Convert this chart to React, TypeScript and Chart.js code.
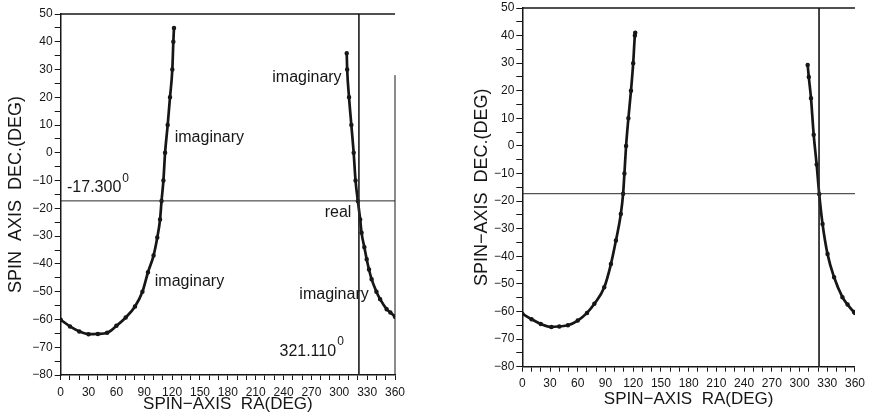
import React, { useEffect, useRef } from 'react';
import { Chart, registerables } from 'chart.js';

Chart.register(...registerables);

// ---------- data ----------
const RA_MIN = 0;
const RA_MAX = 360;
const DEC_MIN = -80;
const DEC_MAX = 50;
const RA_LABEL_STEP = 30;
const DEC_LABEL_STEP = 10;

const REF_DEC = -17.3;
const REF_RA = 321.11;

// Left panel, western branch
const L_WEST_RA = [0, 10, 20, 30, 40, 50, 60, 70, 80, 88, 94, 100, 104, 107, 108.6, 110.6, 112.4, 115.2, 117.7, 120.2, 121.3, 122];
const L_WEST_DEC = [-60.1, -62.5, -64.3, -65.3, -65.2, -64.8, -62.3, -59.3, -55.3, -50, -43, -37, -30.5, -24, -17.3, -10, 0, 10, 20, 30, 40, 45];
// Left panel, eastern branch
const L_EAST_RA = [308, 308.5, 310.5, 313, 315.5, 317.5, 320, 322.5, 324, 327, 329.5, 332, 334.8, 340, 344, 351, 355, 360];
const L_EAST_DEC = [35.9, 30, 20, 10, 0, -10, -17.3, -24, -28.8, -34, -38.3, -42, -45.5, -50, -52.7, -56.3, -57.5, -59];

// Right panel, western branch
const R_WEST_RA = [0, 10, 20, 31.5, 40, 49.4, 60, 70, 78, 88.7, 95.9, 101.3, 106.6, 109.1, 110.5, 112.3, 114.8, 117.6, 120, 121.8, 122.2];
const R_WEST_DEC = [-60.8, -62.8, -64.5, -65.6, -65.4, -65, -63.3, -60.5, -57.2, -51.2, -42.8, -34.3, -24.7, -17.3, -10, 0, 10, 20, 30, 40, 41];
// Right panel, eastern branch
const R_EAST_RA = [308.8, 310, 312.4, 315.3, 318.5, 321.3, 324.9, 330.3, 337.4, 346.4, 352, 358.9, 360];
const R_EAST_DEC = [29.3, 25, 17.3, 4.1, -6.7, -17.5, -28.3, -39.2, -47.6, -54.8, -57.5, -60.2, -60.5];

const LEFT_LABELS = ['imaginary', 'imaginary', 'real', 'imaginary', 'imaginary', '-17.300', '321.110'];
const LEFT_LABEL_RA = [122.8, 302.5, 313, 101.3, 257, 6.8, 235.6];
const LEFT_LABEL_DEC = [5.5, 27, -21.5, -46.2, -50.9, -12.5, -71.4];
const LEFT_LABEL_ALIGN = ['left', 'right', 'right', 'left', 'left', 'left', 'left'];
const LEFT_LABEL_SUP = ['', '', '', '', '', '0', '0'];

const FONT = '"Liberation Sans", Arial, Helvetica, sans-serif';
const INK = '#161616';

const pts = (xs: number[], ys: number[]) => xs.map((x, i) => ({ x, y: ys[i] }));

type PanelProps = {
  west: [number[], number[]];
  east: [number[], number[]];
  yTitle: string;
  xTitle: string;
  padTop: number;
  padRight: number;
  yAxisWidth: number;
  xAxisHeight: number;
  xTitlePadBottom: number;
  yTitlePadTop: number;
  rightBorderFromDec: number | null;
  labels?: { text: string[]; ra: number[]; dec: number[]; align: string[]; sup: string[] };
};

function Panel(p: PanelProps) {
  const ref = useRef<HTMLCanvasElement | null>(null);
  useEffect(() => {
    if (!ref.current) return;
    const curve = (data: { x: number; y: number }[]) => ({
      data,
      showLine: true,
      borderColor: INK,
      backgroundColor: INK,
      borderWidth: 2.7,
      pointRadius: 0.9,
      pointHoverRadius: 0,
      cubicInterpolationMode: 'monotone' as const,
    });
    const refLine = (data: { x: number; y: number }[]) => ({
      data,
      showLine: true,
      borderColor: '#2a2a2a',
      borderWidth: 1,
      pointRadius: 0,
    });
    const framePlugin = {
      id: 'frame',
      afterDraw(chart: any) {
        const ctx = chart.ctx;
        const xs = chart.scales.x;
        const ys = chart.scales.y;
        ctx.save();
        ctx.strokeStyle = INK;
        ctx.lineWidth = 1.5;
        ctx.beginPath();
        ctx.moveTo(xs.getPixelForValue(RA_MIN), ys.getPixelForValue(DEC_MAX));
        ctx.lineTo(xs.getPixelForValue(RA_MAX), ys.getPixelForValue(DEC_MAX));
        ctx.stroke();
        if (p.rightBorderFromDec !== null) {
          ctx.lineWidth = 1;
          ctx.beginPath();
          ctx.moveTo(xs.getPixelForValue(RA_MAX), ys.getPixelForValue(p.rightBorderFromDec));
          ctx.lineTo(xs.getPixelForValue(RA_MAX), ys.getPixelForValue(DEC_MIN));
          ctx.stroke();
        }
        if (p.labels) {
          const L = p.labels;
          ctx.fillStyle = INK;
          ctx.textBaseline = 'middle';
          for (let i = 0; i < L.text.length; i++) {
            ctx.font = `16px ${FONT}`;
            ctx.textAlign = L.align[i] as CanvasTextAlign;
            const px = xs.getPixelForValue(L.ra[i]);
            const py = ys.getPixelForValue(L.dec[i]);
            ctx.fillText(L.text[i], px, py);
            if (L.sup[i]) {
              const w = ctx.measureText(L.text[i]).width;
              ctx.font = `12px ${FONT}`;
              ctx.textAlign = 'left';
              ctx.fillText(L.sup[i], px + w + 1, py - 9);
            }
          }
        }
        ctx.restore();
      },
    };
    const chart = new Chart(ref.current, {
      type: 'scatter',
      data: {
        datasets: [
          refLine([{ x: RA_MIN, y: REF_DEC }, { x: RA_MAX, y: REF_DEC }]),
          refLine([{ x: REF_RA, y: DEC_MAX }, { x: REF_RA, y: DEC_MIN }]),
          curve(pts(p.west[0], p.west[1])),
          curve(pts(p.east[0], p.east[1])),
        ] as any,
      },
      options: {
        animation: false,
        responsive: false,
        devicePixelRatio: 1,
        events: [],
        layout: { padding: { left: 0, right: p.padRight, top: p.padTop, bottom: 0 } },
        plugins: { legend: { display: false }, tooltip: { enabled: false } },
        scales: {
          x: {
            type: 'linear',
            position: 'bottom',
            min: RA_MIN,
            max: RA_MAX,
            afterFit: (s: any) => { s.height = p.xAxisHeight; },
            ticks: {
              stepSize: 10,
              autoSkip: false,
              maxRotation: 0,
              padding: 5,
              color: INK,
              font: { family: FONT, size: 12 },
              callback: (v: any) => (Number(v) % RA_LABEL_STEP === 0 ? String(v) : ''),
            },
            grid: { drawOnChartArea: false, drawTicks: true, tickLength: 5, color: INK, lineWidth: 1 },
            border: { display: true, color: INK, width: 1.5 },
            title: {
              display: true,
              text: p.xTitle,
              color: INK,
              font: { family: FONT, size: 17 },
              padding: { top: 0, bottom: p.xTitlePadBottom },
            },
          },
          y: {
            type: 'linear',
            min: DEC_MIN,
            max: DEC_MAX,
            afterFit: (s: any) => { s.width = p.yAxisWidth; },
            ticks: {
              stepSize: 5,
              autoSkip: false,
              padding: 2,
              color: INK,
              font: { family: FONT, size: 12, lineHeight: 1 },
              callback: (v: any) => (Number(v) % DEC_LABEL_STEP === 0 ? String(v).replace('-', '\u2212') : ''),
            },
            grid: { drawOnChartArea: false, drawTicks: true, tickLength: 6, color: INK, lineWidth: 1 },
            border: { display: true, color: INK, width: 1.5 },
            title: {
              display: true,
              text: p.yTitle,
              color: INK,
              font: { family: FONT, size: 18 },
              padding: { top: p.yTitlePadTop, bottom: 0 },
            },
          },
        },
      },
      plugins: [framePlugin],
    });
    return () => chart.destroy();
  }, []);
  return <canvas ref={ref} width={435} height={420} style={{ display: 'block', width: 435, height: 420 }} />;
}

export default function App() {
  return (
    <div style={{ position: 'fixed', left: 0, top: 0, width: 870, height: 420, background: '#fff', display: 'flex' }}>
      <Panel
        west={[L_WEST_RA, L_WEST_DEC]}
        east={[L_EAST_RA, L_EAST_DEC]}
        yTitle="SPIN  AXIS  DEC.(DEG)"
        xTitle={'SPIN\u2212AXIS  RA(DEG)'}
        padTop={14}
        padRight={40}
        yAxisWidth={60.7}
        xAxisHeight={45}
        xTitlePadBottom={5}
        yTitlePadTop={5}
        rightBorderFromDec={28}
        labels={{ text: LEFT_LABELS, ra: LEFT_LABEL_RA, dec: LEFT_LABEL_DEC, align: LEFT_LABEL_ALIGN, sup: LEFT_LABEL_SUP }}
      />
      <Panel
        west={[R_WEST_RA, R_WEST_DEC]}
        east={[R_EAST_RA, R_EAST_DEC]}
        yTitle={'SPIN\u2212AXIS  DEC.(DEG)'}
        xTitle={'SPIN\u2212AXIS  RA(DEG)'}
        padTop={6}
        padRight={12.3}
        yAxisWidth={87.3}
        xAxisHeight={53.3}
        xTitlePadBottom={10}
        yTitlePadTop={36}
        rightBorderFromDec={null}
      />
    </div>
  );
}
